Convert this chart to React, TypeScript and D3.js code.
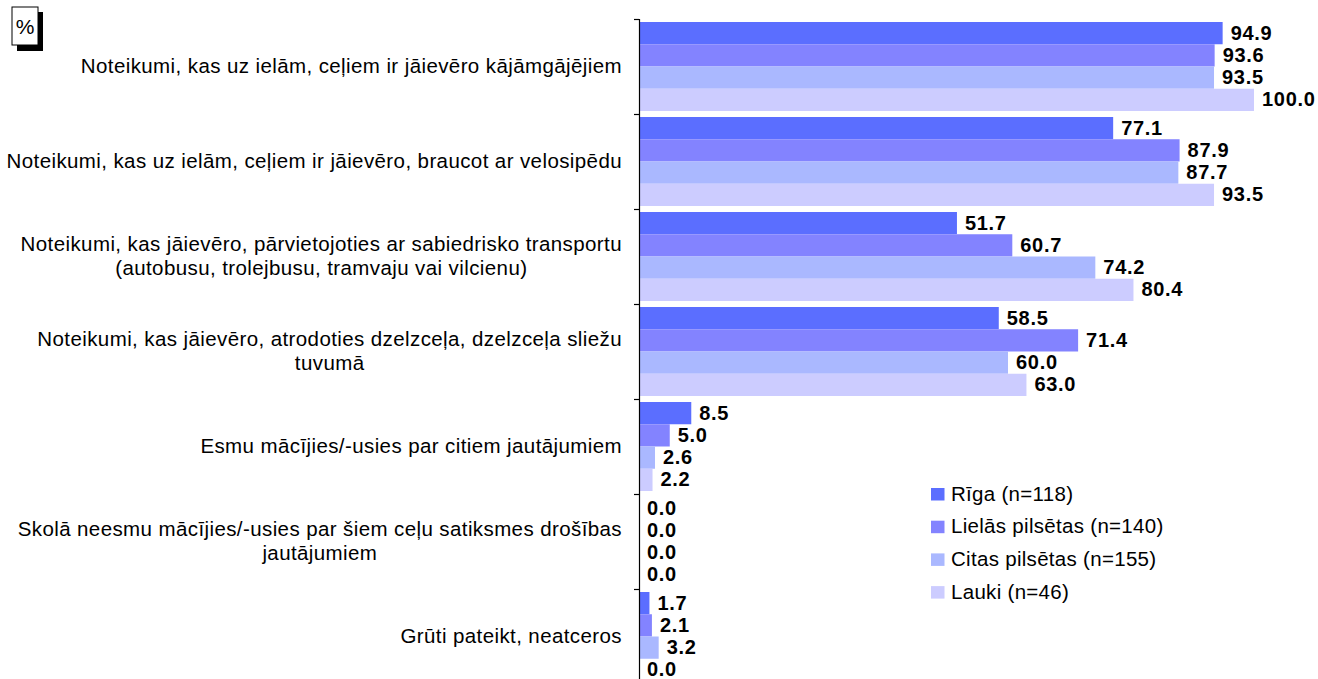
import React, { useEffect, useRef } from "react";
import * as d3 from "d3";

const categories: string[][] = [
  ["Noteikumi, kas uz ielām, ceļiem ir jāievēro kājāmgājējiem"],
  ["Noteikumi, kas uz ielām, ceļiem ir jāievēro, braucot ar velosipēdu"],
  ["Noteikumi, kas jāievēro, pārvietojoties ar sabiedrisko transportu", "(autobusu, trolejbusu, tramvaju vai vilcienu)"],
  ["Noteikumi, kas jāievēro, atrodoties dzelzceļa, dzelzceļa sliežu", "tuvumā"],
  ["Esmu mācījies/-usies par citiem jautājumiem"],
  ["Skolā neesmu mācījies/-usies par šiem ceļu satiksmes drošības", "jautājumiem"],
  ["Grūti pateikt, neatceros"],
];

const seriesNames = ["Rīga (n=118)", "Lielās pilsētas (n=140)", "Citas pilsētas (n=155)", "Lauki (n=46)"];
const riga = [94.9, 77.1, 51.7, 58.5, 8.5, 0.0, 1.7];
const lielas = [93.6, 87.9, 60.7, 71.4, 5.0, 0.0, 2.1];
const citas = [93.5, 87.7, 74.2, 60.0, 2.6, 0.0, 3.2];
const lauki = [100.0, 93.5, 80.4, 63.0, 2.2, 0.0, 0.0];
const seriesValues = [riga, lielas, citas, lauki];
const colors = ["#5B6EFF", "#8383FF", "#AAB8FF", "#CCCCFF"];

const W = 1318;
const H = 679;
const FONT = "'Liberation Sans', Arial, sans-serif";

export default function App() {
  const ref = useRef<SVGSVGElement>(null);

  useEffect(() => {
    document.body.style.margin = "0";
    const svg = d3.select(ref.current);
    svg.selectAll("*").remove();

    const x = d3.scaleLinear().domain([0, 100]).range([639, 1254]);
    const ids = categories.map((_, i) => String(i));
    const y = d3.scaleBand<string>().domain(ids).range([19, 684]).padding(0);
    const inner = d3
      .scaleBand<string>()
      .domain(seriesNames)
      .range([3, y.bandwidth() - 3])
      .padding(0);

    // % box
    svg.append("rect").attr("x", 17).attr("y", 12).attr("width", 26).attr("height", 39).attr("fill", "#000");
    svg.append("rect").attr("x", 12).attr("y", 7).attr("width", 26).attr("height", 38).attr("fill", "#fff").attr("stroke", "#000").attr("stroke-width", 1);
    svg.append("text").attr("x", 25).attr("y", 34).attr("text-anchor", "middle").attr("font-family", FONT).attr("font-size", 21).text("%");

    // bars
    const g = svg.append("g");
    ids.forEach((id, ci) => {
      seriesNames.forEach((s, si) => {
        const v = seriesValues[si][ci];
        const by = (y(id) as number) + (inner(s) as number);
        const bh = inner.bandwidth();
        if (v > 0) {
          g.append("rect")
            .attr("x", x(0))
            .attr("y", by)
            .attr("width", x(v) - x(0))
            .attr("height", bh)
            .attr("fill", colors[si]);
        }
        g.append("text")
          .attr("x", x(v) + 8)
          .attr("y", by + bh / 2 + 6.5)
          .attr("font-family", FONT)
          .attr("font-size", 20)
          .attr("font-weight", "bold")
          .attr("letter-spacing", 0.7)
          .attr("fill", "#000")
          .text(v.toFixed(1));
      });
    });

    // axis
    svg.append("line").attr("x1", 639.5).attr("x2", 639.5).attr("y1", 19).attr("y2", 684).attr("stroke", "#000").attr("stroke-width", 1.2);
    ids.concat(["end"]).forEach((id, i) => {
      const ty = Math.round(19 + i * y.bandwidth()) + 0.5;
      svg.append("line").attr("x1", 634).attr("x2", 639).attr("y1", ty).attr("y2", ty).attr("stroke", "#000").attr("stroke-width", 1.2);
    });

    // category labels
    const rightEdge = 622;
    const lineH = 23.5;
    categories.forEach((lines, ci) => {
      const cy = (y(String(ci)) as number) + y.bandwidth() / 2;
      const grp = svg.append("g");
      const texts = lines.map((ln, li) =>
        grp
          .append("text")
          .attr("font-family", FONT)
          .attr("font-size", 20.5)
          .attr("letter-spacing", 0.4)
          .attr("fill", "#000")
          .attr("y", cy + 6.5 + (li - (lines.length - 1) / 2) * lineH)
          .text(ln)
      );
      const widths = texts.map((t) => (t.node() as SVGTextElement).getComputedTextLength());
      const maxW = Math.max(...widths);
      const center = rightEdge - maxW / 2;
      texts.forEach((t) => t.attr("x", center).attr("text-anchor", "middle"));
    });

    // legend
    seriesNames.forEach((s, si) => {
      const ly = 488 + si * 32.7;
      svg.append("rect").attr("x", 931).attr("y", ly).attr("width", 13.5).attr("height", 12.5).attr("fill", colors[si]);
      svg.append("text")
        .attr("x", 951)
        .attr("y", ly + 12.5)
        .attr("font-family", FONT)
        .attr("font-size", 20.5)
        .attr("letter-spacing", 0.3)
        .attr("fill", "#000")
        .text(s);
    });
  }, []);

  return <svg ref={ref} width={W} height={H} style={{ display: "block" }} />;
}
